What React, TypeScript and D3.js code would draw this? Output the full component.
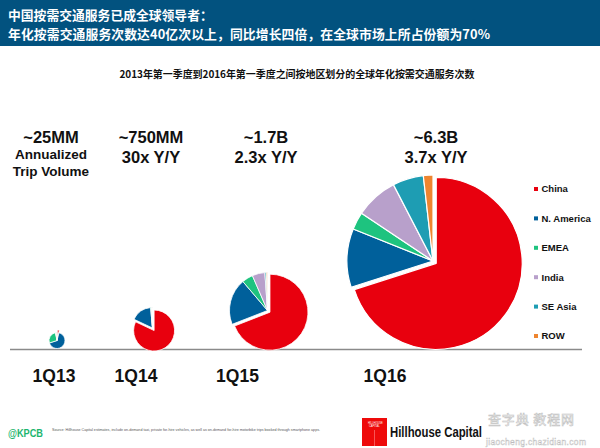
import React from "react";
import * as d3 from "d3";

// ---- data ----
const quarters = ["1Q13", "1Q14", "1Q15", "1Q16"];
const volumeLabels = ["~25MM", "~750MM", "~1.7B", "~6.3B"];
const growthLabels = ["Annualized|Trip Volume", "30x Y/Y", "2.3x Y/Y", "3.7x Y/Y"];
const regions = ["China", "N. America", "EMEA", "India", "SE Asia", "ROW"];
const china = [4, 82, 69, 70];
const nAmerica = [66, 16.5, 19.7, 11];
const emea = [27, 0.8, 4.7, 3.3];
const india = [1, 0.3, 5.4, 8];
const seAsia = [1, 0.3, 0.6, 5.8];
const row = [1, 0.1, 0.5, 1.8];

const headerLine1 = "中国按需交通服务已成全球领导者：";
const headerLine2 = "年化按需交通服务次数达40亿次以上，同比增长四倍，在全球市场上所占份额为70%";
const subTitle = "2013年第一季度到2016年第一季度之间按地区划分的全球年化按需交通服务次数";
const sourceText =
  "Source: Hillhouse Capital estimates, include on-demand taxi, private for-hire vehicles, as well as on-demand for-hire motorbike trips booked through smartphone apps.";

// ---- layout / style ----
const W = 600;
const H = 448;
const colors = ["#E8000E", "#00609B", "#1EC37F", "#B8A0CB", "#1E9DB3", "#EE8530"];
const pieCx = d3.scaleOrdinal<string, number>().domain(quarters).range([57, 152.5, 267.5, 433]);
const pieR = d3.scaleOrdinal<string, number>().domain(quarters).range([8, 20.5, 38, 86]);
const labelX = d3.scaleOrdinal<string, number>().domain(quarters).range([54, 136, 237.5, 385]);
const annoX = d3.scaleOrdinal<string, number>().domain(quarters).range([51, 151, 266, 436]);
const legendY = d3.scalePoint<string>().domain(regions).range([189, 336]);
const baseY = 349.5;
const FONT = "'Liberation Sans', Arial, 'Noto Sans CJK SC', sans-serif";
const CJK = "'Noto Sans CJK SC', 'Liberation Sans', sans-serif";

const seriesByRegion = [china, nAmerica, emea, india, seAsia, row];

export default function App() {
  const pie = d3.pie<number>().sort(null).value((d) => d);
  return (
    <svg width={W} height={H} style={{ display: "block", position: "absolute", left: 0, top: 0 }}>
      <rect x={0} y={0} width={W} height={H} fill="#fff" />
      {/* header */}
      <rect x={0} y={0} width={W} height={46} fill="#02527F" />
      <text x={8} y={20} fill="#fff" fontFamily={CJK} fontWeight="bold" fontSize={12.8}>
        {headerLine1}
      </text>
      <text x={8} y={38.5} fill="#fff" fontFamily={CJK} fontWeight="bold" fontSize={12.8} textLength={482}>
        {headerLine2}
      </text>
      <text x={297} y={78} textAnchor="middle" fontFamily={CJK} fontWeight="bold" fontSize={10} fill="#111" textLength={355}>
        {subTitle}
      </text>

      {/* baseline */}
      <line x1={10} x2={582} y1={baseY} y2={baseY} stroke="#8a8a8a" strokeWidth={1.5} />

      {quarters.map((q, qi) => {
        const vals = seriesByRegion.map((s) => s[qi]);
        const arcs = pie(vals);
        const r = pieR(q);
        const cx = pieCx(q);
        const off = r > 50 ? 4 : r > 10 ? 3 : 2.5;
        const cy = baseY - 1 - r - (r > 50 ? 1.5 : 0);
        const arc = d3.arc<d3.PieArcDatum<number>>().innerRadius(0).outerRadius(r);
        const g = growthLabels[qi].split("|");
        return (
          <g key={q}>
            <g transform={`translate(${cx},${cy})`}>
              {arcs.map((a, i) => {
                const mid = (a.startAngle + a.endAngle) / 2;
                const o = i === 0 ? off : 0;
                return (
                  <path
                    key={i}
                    d={arc(a) || ""}
                    transform={`translate(${Math.sin(mid) * o},${-Math.cos(mid) * o})`}
                    fill={colors[i]}
                    stroke="#fff"
                    strokeWidth={r > 50 ? 1.2 : 0.8}
                    strokeLinejoin="round"
                  />
                );
              })}
            </g>
            <text x={labelX(q)} y={382} textAnchor="middle" fontFamily={FONT} fontWeight="bold" fontSize={17.5} fill="#111">
              {q}
            </text>
            <text x={annoX(q)} y={143} textAnchor="middle" fontFamily={FONT} fontWeight="bold" fontSize={16.5} fill="#111">
              {volumeLabels[qi]}
            </text>
            {g.length > 1 ? (
              g.map((t, k) => (
                <text key={k} x={annoX(q)} y={159 + k * 17} textAnchor="middle" fontFamily={FONT} fontWeight="bold" fontSize={13.5} fill="#111">
                  {t}
                </text>
              ))
            ) : (
              <text x={annoX(q)} y={163} textAnchor="middle" fontFamily={FONT} fontWeight="bold" fontSize={16.5} fill="#111">
                {g[0]}
              </text>
            )}
          </g>
        );
      })}

      {/* legend */}
      {regions.map((rg, i) => (
        <g key={rg} transform={`translate(534,${legendY(rg)})`}>
          <rect x={0} y={-2} width={4} height={4} fill={colors[i]} />
          <text x={7.5} y={3.3} fontFamily={FONT} fontWeight="bold" fontSize={9.5} fill="#111">
            {rg}
          </text>
        </g>
      ))}

      {/* footer */}
      <text x={8} y={437} fontFamily={FONT} fontWeight="bold" fontSize={11.5} fill="#1DB56E" textLength={35} lengthAdjust="spacingAndGlyphs">
        @KPCB
      </text>
      <text x={52} y={431} fontFamily={FONT} fontSize={3.6} fill="#555" textLength={268} lengthAdjust="spacingAndGlyphs">
        {sourceText}
      </text>
      <rect x={362} y={418} width={25} height={28} fill="#EE0A0A" />
      <text x={368} y={423.5} fontFamily={FONT} fontSize={2.6} fill="#fff">HILLHOUSE</text>
      <text x={369} y={427} fontFamily={FONT} fontSize={2.6} fill="#fff">CAPITAL</text>
      <line x1={374.5} x2={374.5} y1={430} y2={446} stroke="#f88" strokeWidth={0.6} />
      <text x={390} y={437} fontFamily={FONT} fontWeight="bold" fontSize={14} fill="#111" textLength={92} lengthAdjust="spacingAndGlyphs">
        Hillhouse Capital
      </text>
      {/* watermark */}
      <text x={488} y={424} fontFamily={CJK} fontSize={13} fill="#fff" stroke="#bbb" strokeWidth={0.6} opacity={0.9} textLength={86}>
        查字典 教程网
      </text>
      <text x={486} y={445} fontFamily={FONT} fontSize={8.5} fill="#fff" stroke="#bbb" strokeWidth={0.4} textLength={100}>
        jiaocheng.chazidian.com
      </text>
    </svg>
  );
}
